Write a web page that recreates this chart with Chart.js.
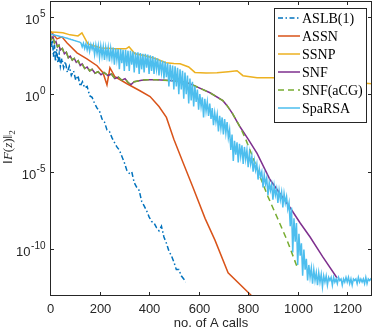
<!DOCTYPE html>
<html>
<head>
<meta charset="utf-8">
<script src="https://cdn.jsdelivr.net/npm/chart.js@4"></script>
<style>
  html, body { margin: 0; padding: 0; background: #fff; }
  #wrap { width: 374px; height: 332px; }
</style>
</head>
<body>
<div id="wrap"><canvas id="chart" width="374" height="332"></canvas></div>
<script>
// values are log10 of ||F(z)||_2
const aslbX = [0, 5, 10, 14, 18, 22, 27, 32, 37, 42, 48, 55, 62, 70, 78, 86, 95, 104, 113, 122, 131, 140, 150, 160, 170, 180, 190, 200, 210, 220, 230, 240, 250, 260, 270, 280, 290, 300, 310, 320, 330, 340, 350, 360, 370, 380, 390, 400, 410, 420, 430, 440, 450, 460, 470, 480, 490, 500, 510, 520, 530, 540, 548];
const aslbY = [3.6, 3.0, 3.5, 2.4, 3.2, 2.1, 2.9, 2.0, 2.6, 1.8, 2.3, 1.7, 2.1, 1.4, 1.8, 1.2, 1.5, 0.9, 1.2, 0.5, 0.8, 0.4, 0.5, -0.1, -0.2, -0.6, -0.9, -1.1, -1.6, -1.8, -2.3, -2.4, -2.8, -3.1, -3.4, -3.6, -4.0, -4.4, -4.9, -5.1, -5.0, -5.7, -6.0, -6.2, -6.9, -7.2, -7.5, -7.9, -8.2, -8.3, -8.6, -8.8, -8.5, -9.2, -9.6, -10.1, -10.4, -10.8, -11.3, -11.3, -11.7, -11.9, -12.1];

const assnX = [0, 12, 28, 48, 69, 109, 149, 190, 214, 230, 242, 262, 311, 363, 404, 440, 470, 500, 537, 577, 626, 666, 719, 815];
const assnY = [4.07, 3.88, 3.56, 3.69, 3.30, 2.66, 2.28, 1.83, 1.38, 0.6, 1.7, 1.12, 0.67, 0.22, -0.15, -0.8, -1.5, -2.9, -4.4, -6.0, -8.0, -9.4, -11.5, -13.0];

const ssnpX = [0, 25, 52, 81, 113, 129, 153, 180, 206, 234, 262, 290, 307, 319, 343, 384, 428, 468, 500, 525, 560, 585, 630, 674, 720, 755, 779, 836, 896, 960, 1009, 1070, 1130, 1200, 1260, 1300];
const ssnpY = [4.01, 3.98, 3.95, 3.82, 3.75, 3.95, 3.24, 3.10, 2.98, 2.95, 2.92, 2.93, 2.92, 3.05, 2.60, 2.47, 2.28, 2.02, 1.98, 1.96, 1.75, 1.40, 1.37, 1.38, 1.45, 1.51, 1.19, 1.06, 1.06, 1.02, 0.99, 0.94, 0.87, 0.80, 0.72, 0.67];

const snfX = [0, 6, 12, 18, 24, 30, 36, 42, 50, 58, 66, 74, 82, 90, 98, 106, 114, 122, 130, 140, 150, 160, 170, 182, 194, 206, 218, 234, 248, 262, 276, 290, 303, 315, 327, 340, 355, 370, 396, 430, 484, 530, 565, 600, 646, 698, 715, 735, 767, 800, 836, 888, 928, 969, 1010, 1050, 1100, 1159];
const snfY = [3.88, 3.55, 3.70, 3.30, 3.40, 3.05, 3.15, 2.85, 2.95, 2.60, 2.70, 2.35, 2.45, 2.20, 2.30, 2.05, 2.15, 1.85, 1.95, 1.65, 1.75, 1.50, 1.60, 1.35, 1.45, 1.25, 1.40, 1.20, 1.30, 1.00, 1.10, 0.90, 1.00, 0.75, 0.62, 0.80, 0.85, 0.90, 0.93, 0.92, 0.88, 0.82, 0.67, 0.42, 0.09, -0.42, -0.74, -1.2, -2.1, -2.9, -3.82, -5.5, -6.4, -7.3, -8.3, -9.2, -10.45, -11.84];

const acgX = [0, 6, 12, 18, 24, 30, 36, 42, 50, 58, 66, 74, 82, 90, 98, 106, 114, 122, 130, 140, 150, 160, 170, 182, 194, 206, 218, 234, 248, 262, 276, 290, 303, 315, 327, 340, 355, 370, 396, 430, 484, 530, 565, 600, 646, 698, 715, 735, 767, 790, 815, 850, 880, 916, 957, 997];
const acgY = [3.88, 3.55, 3.70, 3.30, 3.40, 3.05, 3.15, 2.85, 2.95, 2.60, 2.70, 2.35, 2.45, 2.20, 2.30, 2.05, 2.15, 1.85, 1.95, 1.65, 1.75, 1.50, 1.60, 1.35, 1.45, 1.25, 1.40, 1.20, 1.30, 1.00, 1.10, 0.90, 1.00, 0.75, 0.62, 0.80, 0.85, 0.90, 0.93, 0.92, 0.88, 0.82, 0.67, 0.42, 0.09, -0.42, -0.74, -1.2, -2.1, -2.9, -3.9, -5.4, -6.6, -7.9, -9.4, -11.1];

// SpaRSA: one value every 5 A calls from 0 to 1300
const spaStep = 5;
const spaY = [
  3.88, 3.86, 3.84, 3.82, 3.80, 3.78, 3.76, 3.74, 3.72, 3.70,
  3.68, 3.66, 3.64, 3.62, 3.60, 3.57, 3.55, 3.52, 3.50, 3.47,
  3.45, 3.42, 3.40, 3.37, 3.35, 3.30, 3.05, 3.28, 2.95, 3.25,
  2.85, 3.22, 2.75, 3.20, 2.9, 3.18, 2.55, 3.15, 2.6, 3.12,
  2.35, 3.1, 2.45, 3.05, 2.2, 3.0, 2.4, 3.0, 2.1, 2.95,
  2.3, 3.0, 1.9, 2.95, 2.2, 2.9, 1.6, 2.9, 2.0, 2.85,
  1.5, 2.85, 1.8, 2.8, 1.5, 2.8, 1.9, 2.75, 1.4, 2.7,
  1.7, 2.7, 1.3, 2.65, 1.6, 2.6, 1.4, 2.6, 1.7, 2.55,
  1.3, 2.5, 1.5, 2.45, 1.3, 2.35, 1.6, 2.3, 1.2, 2.2,
  1.4, 2.15, 1.0, 2.1, 1.1, 2.0, 0.5, 1.9, 0.8, 1.85,
  0.3, 1.8, 0.5, 1.7, 0.0, 1.6, 0.3, 1.5, -0.3, 1.4,
  0.0, 1.2, -0.6, 1.0, -0.4, 0.8, -0.8, 0.5, -0.5, 0.3,
  -1.0, 0.0, -0.8, -0.2, -1.5, -0.3, -1.1, -0.5, -1.4, -0.6,
  -1.6, -0.9, -2.0, -1.2, -1.8, -1.3, -2.4, -1.4, -2.2, -1.5,
  -2.6, -1.6, -2.5, -1.8, -2.8, -2.3, -3.6, -2.6, -4.3, -3.0,
  -3.9, -3.1, -4.4, -3.2, -4.0, -3.3, -4.5, -3.4, -4.2, -3.6,
  -4.7, -3.8, -4.5, -4.0, -5.0, -4.3, -4.9, -4.5, -5.5, -4.8,
  -5.3, -5.0, -6.0, -5.2, -5.8, -5.4, -6.5, -5.7, -6.2, -5.8,
  -6.8, -5.9, -6.5, -6.1, -7.0, -6.2, -6.8, -6.3, -7.3, -6.4,
  -7.0, -6.6, -7.4, -7.0, -8.5, -7.3, -10.2, -8.0, -9.5, -8.3,
  -11.0, -9.0, -10.4, -9.6, -11.7, -10.0, -11.3, -10.6, -12.0, -11.0,
  -11.8, -11.2, -12.2, -11.3, -12.0, -11.5, -12.3, -11.5, -12.1, -11.6,
  -12.4, -11.7, -12.1, -11.7, -12.3, -11.8, -12.0, -11.8, -12.3, -11.8,
  -12.1, -11.9, -12.2, -11.8, -12.0, -11.9, -12.3, -11.9, -12.1, -11.8,
  -12.1, -11.8, -12.2, -11.9, -12.3, -11.9, -12.0, -11.9, -12.2, -11.8,
  -12.1, -11.9, -12.1, -11.9, -12.2, -11.8, -12.2, -11.9, -12.0, -11.9,
  -12.0
];

const xTicks = [0, 200, 400, 600, 800, 1000, 1200];
const yTickExps = [5, 0, -5, -10];

const AXIS = '#262626';
const SANS = '"Liberation Sans", Arial, sans-serif';
const SERIF = '"Liberation Serif", "DejaVu Serif", serif';

const pts = (xs, ys) => ys.map((v, i) => ({ x: xs[i], y: Math.pow(10, v) }));
const spaX = spaY.map((_, i) => i * spaStep);

const datasets = [
  { label: 'ASLB(1)', data: pts(aslbX, aslbY), borderColor: '#0072BD', borderDash: [5, 2.5, 1.5, 2.5], order: 5 },
  { label: 'ASSN', data: pts(assnX, assnY), borderColor: '#D95319', order: 4 },
  { label: 'SSNP', data: pts(ssnpX, ssnpY), borderColor: '#EDB120', order: 3 },
  { label: 'SNF', data: pts(snfX, snfY), borderColor: '#7E2F8E', order: 2 },
  { label: 'SNF(aCG)', data: pts(acgX, acgY), borderColor: '#77AC30', borderDash: [6, 4], order: 1 },
  { label: 'SpaRSA', data: pts(spaX, spaY), borderColor: '#4DBEEE', order: 0 },
];

// box, inward ticks, tick labels, axis titles and the legend, MATLAB style
const frame = {
  id: 'frame',
  afterDraw(chart) {
    const { ctx, chartArea: a, scales } = chart;
    const xs = scales.x;
    const ys = scales.y;
    ctx.save();
    ctx.strokeStyle = AXIS;
    ctx.lineWidth = 1;
    ctx.strokeRect(a.left + 0.5, a.top + 0.5, a.right - a.left - 1, a.bottom - a.top - 1);

    ctx.fillStyle = AXIS;
    ctx.font = '13px ' + SANS;
    ctx.textAlign = 'center';
    ctx.textBaseline = 'alphabetic';
    ctx.beginPath();
    xTicks.forEach((t) => {
      const px = Math.round(xs.getPixelForValue(t)) + 0.5;
      ctx.moveTo(px, a.bottom);
      ctx.lineTo(px, a.bottom - 4);
      ctx.moveTo(px, a.top);
      ctx.lineTo(px, a.top + 4);
      ctx.fillText(String(t), px, 313);
    });
    yTickExps.forEach((e) => {
      const py = Math.round(ys.getPixelForValue(Math.pow(10, e))) + 0.5;
      ctx.moveTo(a.left, py);
      ctx.lineTo(a.left + 4, py);
      ctx.moveTo(a.right, py);
      ctx.lineTo(a.right - 4, py);
      ctx.font = '13px ' + SANS;
      const w10 = ctx.measureText('10').width;
      ctx.font = '10px ' + SANS;
      const sup = String(e);
      const ws = ctx.measureText(sup).width;
      ctx.textAlign = 'left';
      const x0 = 45 - ws - w10;
      ctx.font = '13px ' + SANS;
      ctx.fillText('10', x0, py + 6);
      ctx.font = '10px ' + SANS;
      ctx.fillText(sup, x0 + w10 + 0.5, py - 1);
      ctx.textAlign = 'center';
    });
    ctx.stroke();

    ctx.font = '13px ' + SANS;
    ctx.textAlign = 'center';
    ctx.fillText('no. of A calls', (a.left + a.right) / 2, 327);

    // y title: ||F(z)||_2
    const parts = [
      ['\u2016', 'normal', 13, 0],
      ['F', 'italic', 13, 0],
      ['(', 'normal', 13, 0],
      ['z', 'italic', 13, 0],
      [')', 'normal', 13, 0],
      ['\u2016', 'normal', 13, 0],
      ['2', 'normal', 9, 3],
    ];
    ctx.save();
    ctx.translate(12, 147);
    ctx.rotate(-Math.PI / 2);
    let total = 0;
    parts.forEach((p) => {
      ctx.font = `${p[1]} ${p[2]}px ${SERIF}`;
      total += ctx.measureText(p[0]).width;
    });
    let cx = -total / 2;
    ctx.textAlign = 'left';
    ctx.fillStyle = '#262626';
    parts.forEach((p) => {
      ctx.font = `${p[1]} ${p[2]}px ${SERIF}`;
      ctx.fillText(p[0], cx, p[3]);
      cx += ctx.measureText(p[0]).width;
    });
    ctx.restore();

    // legend
    const lx = 274.5, ly = 8.5, lw = 92, lh = 114;
    ctx.fillStyle = '#fff';
    ctx.fillRect(lx, ly, lw, lh);
    ctx.strokeStyle = AXIS;
    ctx.lineWidth = 1;
    ctx.strokeRect(lx, ly, lw, lh);
    ctx.font = '14px ' + SERIF;
    ctx.textAlign = 'left';
    ctx.textBaseline = 'middle';
    chart.data.datasets.forEach((d, i) => {
      const y = 18 + i * 18;
      ctx.strokeStyle = d.borderColor;
      ctx.lineWidth = 1.5;
      ctx.setLineDash(d.borderDash || []);
      ctx.beginPath();
      ctx.moveTo(278, y);
      ctx.lineTo(300, y);
      ctx.stroke();
      ctx.setLineDash([]);
      ctx.fillStyle = '#000';
      ctx.fillText(d.label, 302, y + 1);
    });
    ctx.restore();
  },
};

new Chart(document.getElementById('chart'), {
  type: 'line',
  data: { datasets },
  options: {
    responsive: false,
    devicePixelRatio: 1,
    animation: false,
    layout: { padding: { left: 50, right: 2, top: 1, bottom: 36 } },
    elements: {
      point: { radius: 0 },
      line: { borderWidth: 1.5, tension: 0, fill: false },
    },
    plugins: { legend: { display: false }, tooltip: { enabled: false } },
    scales: {
      x: { type: 'linear', min: 0, max: 1300, display: false },
      y: { type: 'logarithmic', min: 1e-13, max: 1e6, display: false },
    },
  },
  plugins: [frame],
});
</script>
</body>
</html>
